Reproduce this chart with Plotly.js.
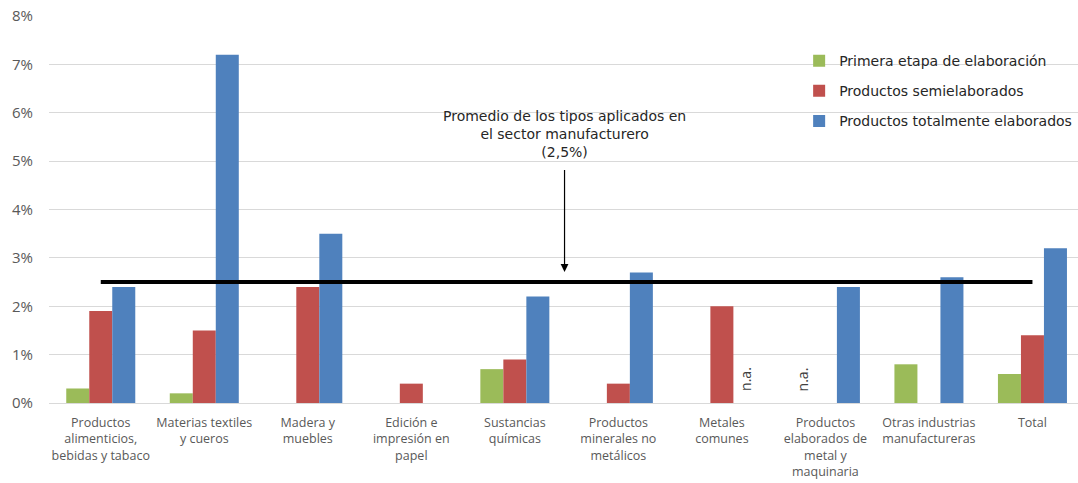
<!DOCTYPE html>
<html>
<head>
<meta charset="utf-8">
<script src="https://cdn.plot.ly/plotly-3.0.1.min.js"></script>
<style>
  html, body { margin: 0; padding: 0; background: #ffffff; }
  #chart { width: 1078px; height: 483px; }
</style>
</head>
<body>
<div id="chart"></div>
<script>
// Sectores manufactureros (etiquetas del eje X)
const categorias = [
  'Productos<br>alimenticios,<br>bebidas y tabaco',
  'Materias textiles<br>y cueros',
  'Madera y<br>muebles',
  'Edición e<br>impresión en<br>papel',
  'Sustancias<br>químicas',
  'Productos<br>minerales no<br>metálicos',
  'Metales<br>comunes',
  'Productos<br>elaborados de<br>metal y<br>maquinaria',
  'Otras industrias<br>manufactureras',
  'Total'
];

// Tipos aplicados por grado de elaboración (null = n.a.)
const primeraEtapa   = [0.003, 0.002, 0, 0, 0.007, 0, 0, null, 0.008, 0.006];
const semielaborados = [0.019, 0.015, 0.024, 0.004, 0.009, 0.004, 0.020, 0, 0, 0.014];
const totalmente     = [0.024, 0.072, 0.035, 0, 0.022, 0.027, null, 0.024, 0.026, 0.032];

const nombresSeries = [
  'Primera etapa de elaboración',
  'Productos semielaborados',
  'Productos totalmente elaborados'
];
const coloresSeries = ['#9BBB59', '#C0504D', '#4F81BD'];

// Promedio del sector manufacturero
const promedio = 0.025;
const textoPromedio = 'Promedio de los tipos aplicados en<br>el sector manufacturero<br>(2,5%)';

const yTicks = [0, 0.01, 0.02, 0.03, 0.04, 0.05, 0.06, 0.07, 0.08];
const yTickText = ['0%', '1%', '2%', '3%', '4%', '5%', '6%', '7%', '8%'];

const indices = categorias.map((_, i) => i);
const series = [primeraEtapa, semielaborados, totalmente];
const bargap = 1 / 3;
const anchoBarra = (1 - bargap) / series.length;

const traces = series.map((vals, s) => ({
  type: 'bar',
  name: nombresSeries[s],
  x: indices,
  y: vals,
  marker: { color: coloresSeries[s] },
  legendgroup: 'g' + s,
  hovertemplate: '%{y:.1%}<extra>' + nombresSeries[s] + '</extra>'
}));

// Línea horizontal del promedio, de la primera a la última categoría
traces.push({
  type: 'scatter',
  mode: 'lines',
  x: [indices[0], indices[indices.length - 1]],
  y: [promedio, promedio],
  line: { color: '#000000', width: 4 },
  showlegend: false,
  hoverinfo: 'skip'
});

const annotations = [];

// Etiquetas "n.a." donde falta el dato
series.forEach((vals, s) => {
  vals.forEach((v, i) => {
    if (v === null) {
      annotations.push({
        x: i + (s - 1) * anchoBarra,
        y: 0,
        xref: 'x', yref: 'y',
        text: 'n.a.',
        textangle: -90,
        showarrow: false,
        yanchor: 'bottom',
        yshift: 10,
        font: { family: 'Open Sans, sans-serif', size: 14, color: '#404040' }
      });
    }
  });
});

// Flecha y texto del promedio
const xFlecha = 4.48;
annotations.push({
  x: xFlecha, y: promedio + 0.0021,
  ax: xFlecha, ay: 0.0485,
  xref: 'x', yref: 'y', axref: 'x', ayref: 'y',
  text: '',
  showarrow: true,
  arrowhead: 2,
  arrowsize: 1.3,
  arrowwidth: 1.2,
  arrowcolor: '#000000'
});
annotations.push({
  x: xFlecha, y: 0.0499,
  xref: 'x', yref: 'y',
  text: textoPromedio,
  showarrow: false,
  yanchor: 'bottom',
  align: 'center',
  font: { family: 'DejaVu Sans, Verdana, sans-serif', size: 14, color: '#262626' }
});

const layout = {
  width: 1078,
  height: 483,
  margin: { l: 49, r: 0, t: 16, b: 80 },
  paper_bgcolor: '#ffffff',
  plot_bgcolor: '#ffffff',
  barmode: 'group',
  bargap: bargap,
  bargroupgap: 0,
  showlegend: true,
  legend: {
    x: 0.729, y: 0.925,
    xanchor: 'left', yanchor: 'top',
    traceorder: 'grouped',
    tracegroupgap: 9,
    bgcolor: 'rgba(0,0,0,0)',
    font: { family: 'DejaVu Sans, Verdana, sans-serif', size: 14, color: '#262626' }
  },
  xaxis: {
    range: [-0.5, 9.44],
    tickmode: 'array',
    tickvals: indices,
    ticktext: categorias,
    showgrid: false,
    zeroline: false,
    showline: false,
    ticks: 'outside',
    ticklen: 8,
    tickcolor: 'rgba(0,0,0,0)',
    tickfont: { family: 'Open Sans, sans-serif', size: 12.5, color: '#595959' },
    fixedrange: true
  },
  yaxis: {
    range: [0, 0.08],
    tickmode: 'array',
    tickvals: yTicks,
    ticktext: yTickText,
    showgrid: true,
    gridcolor: '#d9d9d9',
    gridwidth: 1,
    zeroline: true,
    zerolinecolor: '#d9d9d9',
    zerolinewidth: 1,
    showline: false,
    ticks: 'outside',
    ticklen: 12,
    tickcolor: 'rgba(0,0,0,0)',
    tickfont: { family: 'Open Sans, sans-serif', size: 15, color: '#595959' },
    fixedrange: true
  },
  annotations: annotations
};

Plotly.newPlot('chart', traces, layout, { displayModeBar: false, staticPlot: true });
</script>
</body>
</html>
